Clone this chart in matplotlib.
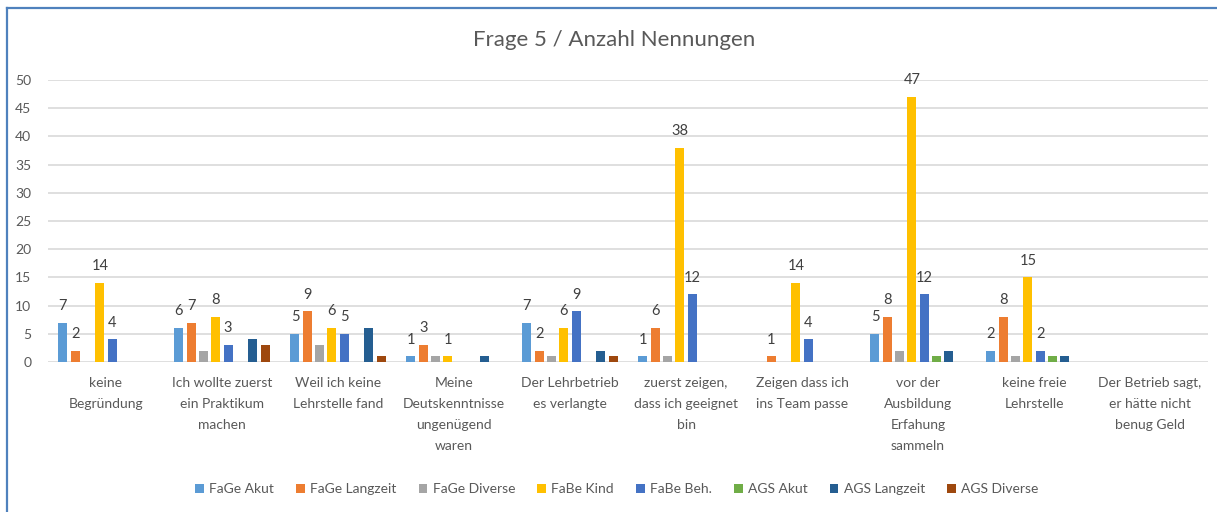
import numpy as np
import matplotlib
matplotlib.use("Agg")
import matplotlib.pyplot as plt
from matplotlib.lines import Line2D

plt.rcParams['font.family'] = ['Lato', 'DejaVu Sans']

# categories (x axis)
categories = [
    "keine\nBegründung",
    "Ich wollte zuerst\nein Praktikum\nmachen",
    "Weil ich keine\nLehrstelle fand",
    "Meine\nDeutskenntnisse\nungenügend\nwaren",
    "Der Lehrbetrieb\nes verlangte",
    "zuerst zeigen,\ndass ich geeignet\nbin",
    "Zeigen dass ich\nins Team passe",
    "vor der\nAusbildung\nErfahung\nsammeln",
    "keine freie\nLehrstelle",
    "Der Betrieb sagt,\ner hätte nicht\nbenug Geld",
]

# series values, one list per group
fage_akut = [7, 6, 5, 1, 7, 1, 0, 5, 2, 0]
fage_langzeit = [2, 7, 9, 3, 2, 6, 1, 8, 8, 0]
fage_diverse = [0, 2, 3, 1, 1, 1, 0, 2, 1, 0]
fabe_kind = [14, 8, 6, 1, 6, 38, 14, 47, 15, 0]
fabe_beh = [4, 3, 5, 0, 9, 12, 4, 12, 2, 0]
ags_akut = [0, 0, 0, 0, 0, 0, 0, 1, 1, 0]
ags_langzeit = [0, 4, 6, 1, 2, 0, 0, 2, 1, 0]
ags_diverse = [0, 3, 1, 0, 1, 0, 0, 0, 0, 0]

series_names = ["FaGe Akut", "FaGe Langzeit", "FaGe Diverse", "FaBe Kind",
                "FaBe Beh.", "AGS Akut", "AGS Langzeit", "AGS Diverse"]
series = [fage_akut, fage_langzeit, fage_diverse, fabe_kind,
          fabe_beh, ags_akut, ags_langzeit, ags_diverse]
colors = ["#5B9BD5", "#ED7D31", "#A5A5A5", "#FFC000",
          "#4472C4", "#70AD47", "#255E91", "#9E480E"]
labelled = [0, 1, 3, 4]  # series that carry data labels

fig = plt.figure(figsize=(12.17, 5.12), dpi=100)
ax = fig.add_axes([48 / 1217, 1 - 362 / 512, 1160 / 1217, 282 / 512])

x = np.arange(len(categories))
pitch = 0.106
width = 0.078
for j, (name, vals, col) in enumerate(zip(series_names, series, colors)):
    pos = x + (j - 3.5) * pitch
    ax.bar(pos, vals, width, color=col, label=name, zorder=3)
    if j in labelled:
        for p, v in zip(pos, vals):
            if v > 0:
                ax.annotate(str(v), (p, v), xytext=(0, 7), textcoords="offset points",
                            ha="center", va="bottom", fontsize=10.5, color="#404040")

ax.set_xlim(-0.5, len(categories) - 0.5)
ax.set_ylim(0, 50)
ax.set_yticks(range(0, 51, 5))
ax.yaxis.grid(True, color="#D9D9D9", linewidth=1.2, zorder=0)
ax.set_axisbelow(True)
for s in ax.spines.values():
    s.set_visible(False)
ax.tick_params(axis="y", length=0, pad=12, labelsize=10, labelcolor="#595959")
ax.set_xticks(x)
ax.set_xticklabels(categories, fontsize=10, color="#595959", linespacing=1.9, va="top")
ax.tick_params(axis="x", length=0, pad=11)

fig.text(0.505, 1 - 40 / 512, "Frage 5 / Anzahl Nennungen", ha="center", va="center",
         fontsize=16, color="#595959")

fig.legend(loc="center", bbox_to_anchor=(0.507, 1 - 489 / 512), ncol=8, frameon=False,
           fontsize=10, handlelength=0.6, handleheight=0.6, handletextpad=0.4,
           columnspacing=1.6, labelcolor="#595959")

# chart frame (left and top edges visible)
fig.add_artist(Line2D([7 / 1217, 7 / 1217], [0, 1 - 8 / 512], color="#4F81BD", linewidth=1.6))
fig.add_artist(Line2D([7 / 1217, 1], [1 - 8 / 512, 1 - 8 / 512], color="#4F81BD", linewidth=1.6))

fig.savefig("out.png", dpi=100)
